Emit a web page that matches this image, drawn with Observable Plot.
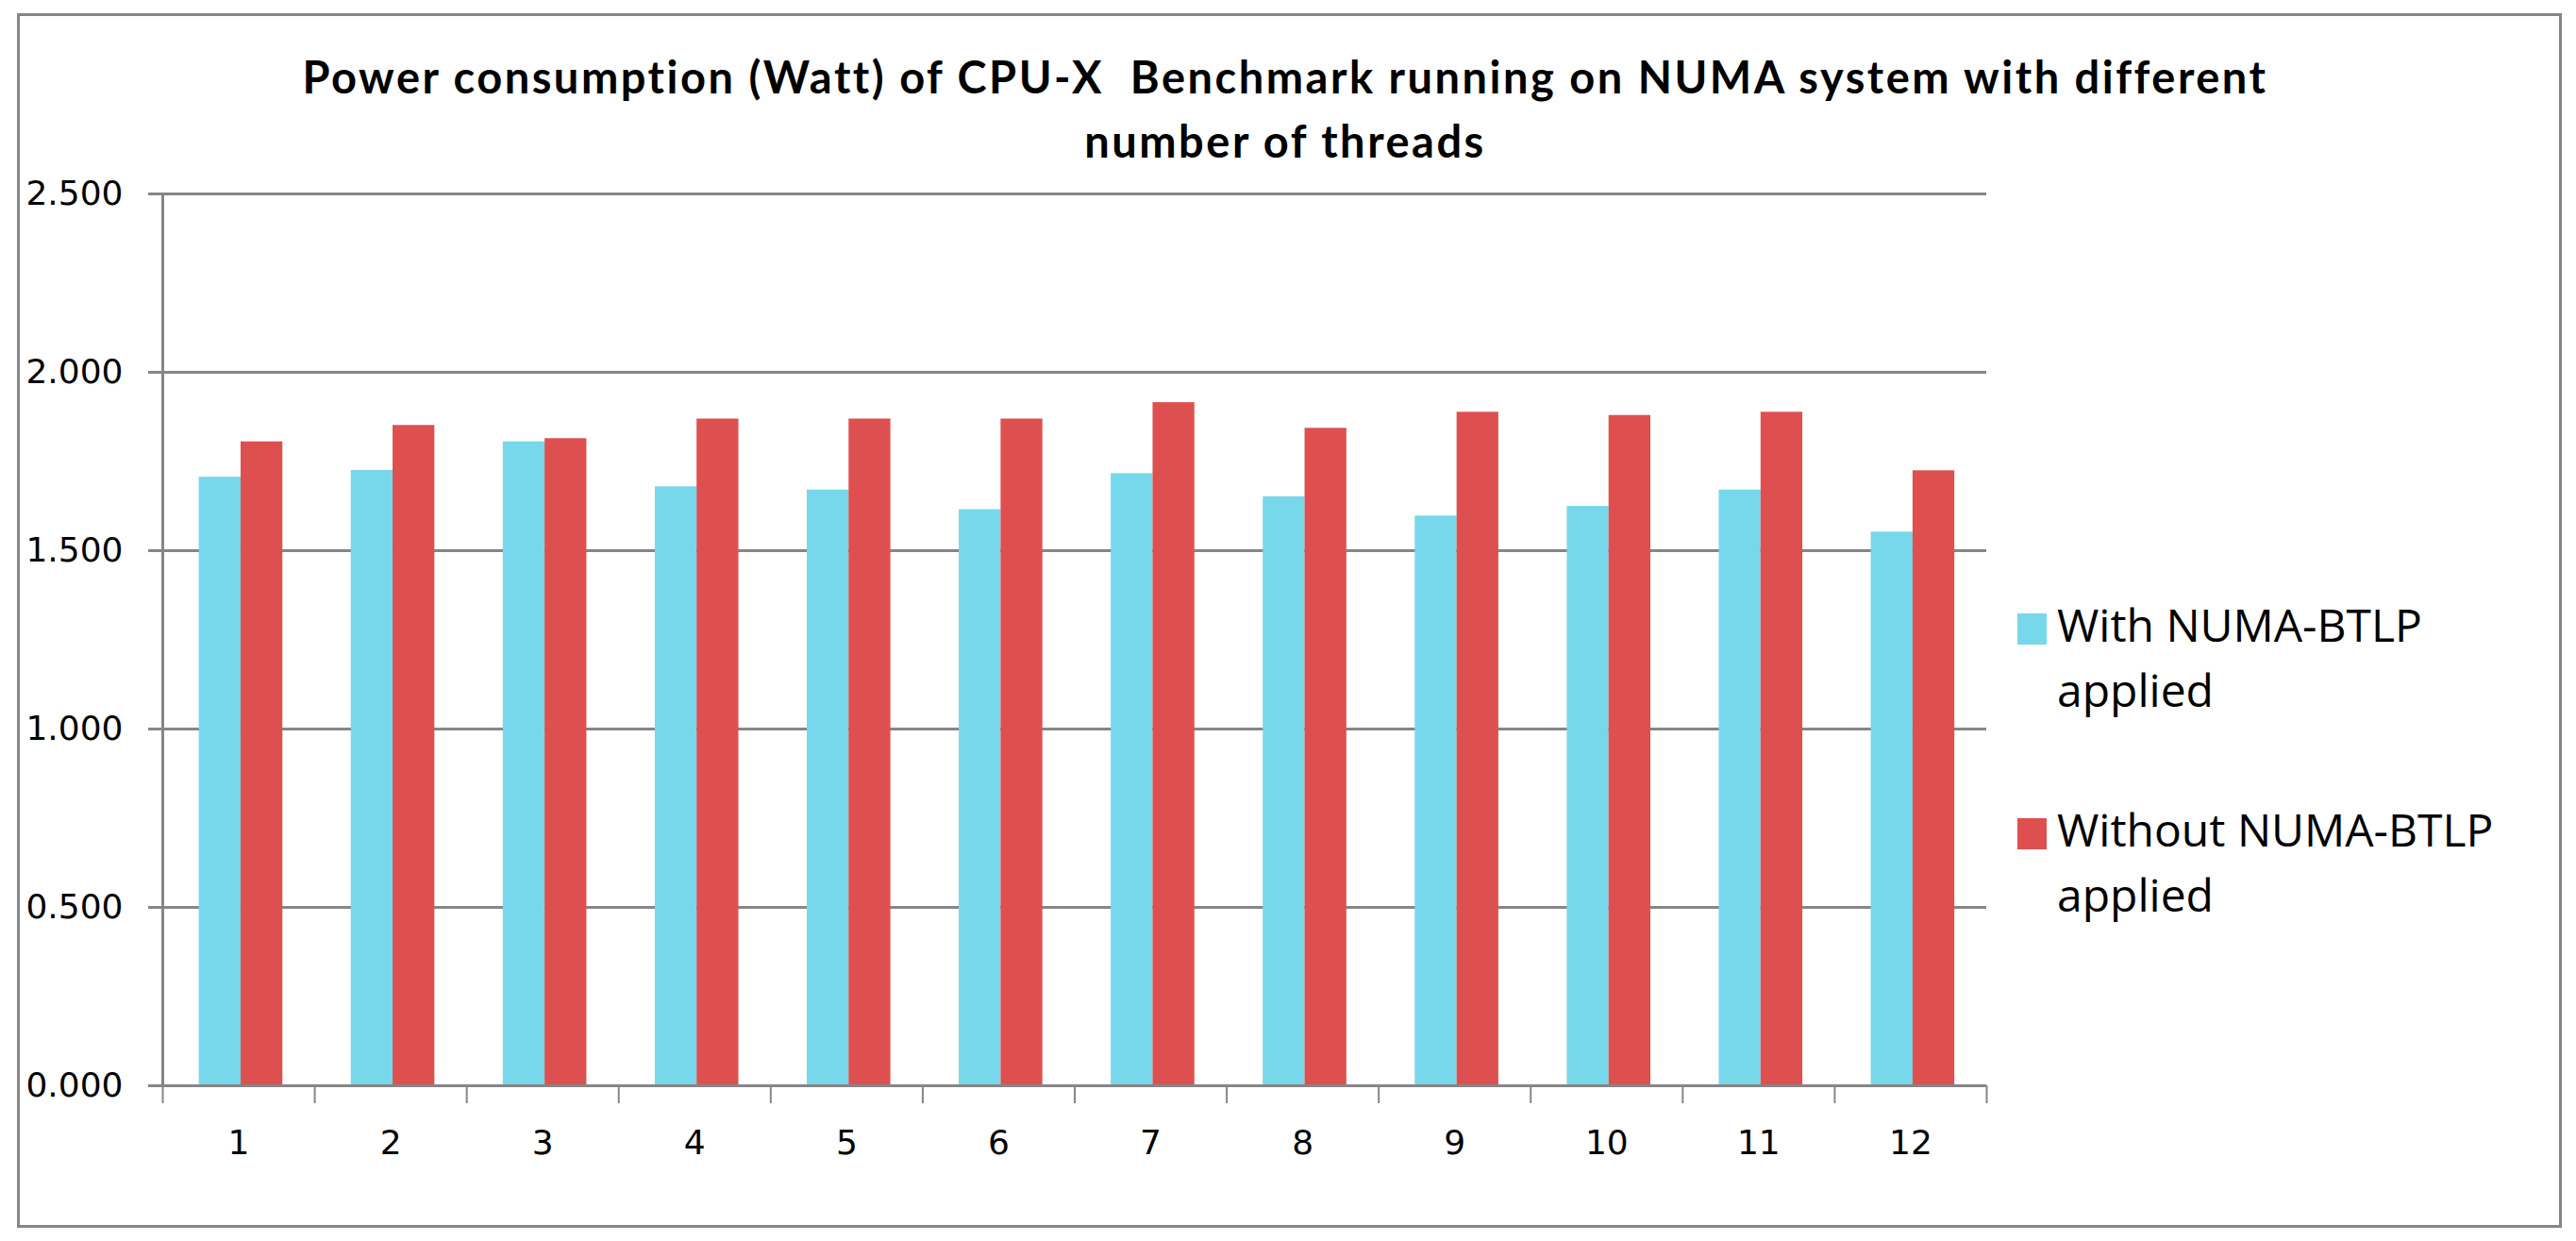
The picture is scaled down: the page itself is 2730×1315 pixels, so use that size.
<!DOCTYPE html>
<html>
<head>
<meta charset="utf-8">
<script src="https://cdn.jsdelivr.net/npm/d3@7"></script>
<script src="https://cdn.jsdelivr.net/npm/@observablehq/plot@0.6"></script>
<style>
  html, body { margin: 0; padding: 0; background: #ffffff; }
  #chart { position: relative; width: 2730px; height: 1315px; overflow: hidden; background: #ffffff; }
  #frame { position: absolute; left: 18px; top: 14px; width: 2691px; height: 1281px; border: 3px solid #868686; box-sizing: content-box; }
  #title { position: absolute; left: 0; top: 47px; width: 2724px; text-align: center; font-family: Lato, "Open Sans", sans-serif; font-weight: bold; font-size: 47px; letter-spacing: 2.5px; line-height: 68px; color: #000; white-space: pre; }
  #plot { position: absolute; left: 0; top: 0; }
  .lg { position: absolute; left: 2138px; font-family: "Open Sans", "Noto Sans", sans-serif; font-size: 48px; line-height: 69px; color: #000; }
  .lg .sw { position: absolute; left: 0; width: 31px; height: 33px; }
  .lg .tx { position: absolute; left: 42px; white-space: nowrap; }
</style>
</head>
<body>
<div id="chart">
  <div id="frame"></div>
  <div id="title"></div>
  <div id="plot"></div>
  <div id="legend"></div>
</div>
<script>
// ---- data ----
const titleLines = ["Power consumption (Watt) of CPU-X  Benchmark running on NUMA system with different", "number of threads"];
const threads = [1, 2, 3, 4, 5, 6, 7, 8, 9, 10, 11, 12];
const withBTLP = [1.706, 1.725, 1.805, 1.679, 1.670, 1.615, 1.716, 1.651, 1.597, 1.624, 1.670, 1.552];
const withoutBTLP = [1.805, 1.851, 1.814, 1.869, 1.869, 1.869, 1.915, 1.843, 1.888, 1.879, 1.888, 1.724];
const seriesNames = ["With NUMA-BTLP applied", "Without NUMA-BTLP applied"];
const legendLines = [["With NUMA-BTLP", "applied"], ["Without NUMA-BTLP", "applied"]];
const seriesColors = ["#76d8ea", "#de5050"];
const yTicks = [0, 0.5, 1.0, 1.5, 2.0, 2.5];

// ---- layout ----
const gray = "#868686";
const barOffsets = [[-0.26, 0.015], [0.015, 0.29]];

const rows = [];
threads.forEach((t, i) => {
  rows.push({thread: t, series: seriesNames[0], value: withBTLP[i], s: 0});
  rows.push({thread: t, series: seriesNames[1], value: withoutBTLP[i], s: 1});
});
const boundaries = d3.range(threads.length + 1).map(i => threads[0] - 0.5 + i);

const plot = Plot.plot({
  width: 2140,
  height: 1260,
  marginLeft: 172,
  marginRight: 35,
  marginTop: 205,
  marginBottom: 110,
  style: {background: "transparent", fontFamily: "DejaVu Sans", fontSize: "36px", color: "#000", overflow: "visible"},
  x: {type: "linear", domain: [threads[0] - 0.5, threads[threads.length - 1] + 0.5], axis: null},
  y: {domain: [yTicks[0], yTicks[yTicks.length - 1]], axis: null},
  color: {domain: seriesNames, range: seriesColors},
  marks: [
    Plot.ruleY(yTicks, {stroke: gray, strokeWidth: 3}),
    Plot.rectY(rows, {
      x1: d => d.thread + barOffsets[d.s][0],
      x2: d => d.thread + barOffsets[d.s][1],
      y1: 0,
      y2: "value",
      fill: "series"
    }),
    Plot.ruleY([0], {stroke: gray, strokeWidth: 3}),
    Plot.ruleX([boundaries[0]], {y1: yTicks[0], y2: yTicks[yTicks.length - 1], stroke: gray, strokeWidth: 3}),
    Plot.axisX(boundaries, {anchor: "bottom", tickSize: 19, tickFormat: () => "", label: null, stroke: gray, strokeWidth: 2, strokeOpacity: 1}),
    Plot.axisX(threads, {anchor: "bottom", tickSize: 0, tickPadding: 47, tickFormat: d => String(d), label: null, fill: "#000", fontSize: 36}),
    Plot.axisY(yTicks, {anchor: "left", tickSize: 15, tickPadding: 27, tickFormat: d3.format(".3f"), label: null, stroke: gray, strokeWidth: 3, strokeOpacity: 1, fill: "#000", fontSize: 36})
  ]
});
document.getElementById("plot").appendChild(plot);

document.getElementById("title").textContent = titleLines.join("\n");

const lg = document.getElementById("legend");
const legendTops = [627, 844];
legendLines.forEach((lines, i) => {
  const e = document.createElement("div");
  e.className = "lg";
  e.style.top = legendTops[i] + "px";
  const sw = document.createElement("div");
  sw.className = "sw";
  sw.style.background = seriesColors[i];
  sw.style.top = "23px";
  e.appendChild(sw);
  const tx = document.createElement("div");
  tx.className = "tx";
  tx.innerHTML = lines.join("<br>");
  e.appendChild(tx);
  lg.appendChild(e);
});
</script>
</body>
</html>
